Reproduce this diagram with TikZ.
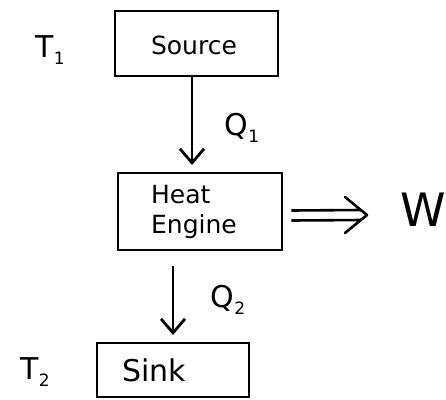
\documentclass[tikz,border=0pt]{standalone}
\usepackage{fontspec}
\setmainfont{DejaVu Sans}
\usetikzlibrary{arrows.meta,calc}
\newcommand{\sbs}[1]{\raisebox{-0.25em}{\fontsize{17}{18}\selectfont #1}}
\begin{document}
\begin{tikzpicture}[x=1pt,y=-1pt,
  box/.style={draw,line width=2.8pt,inner sep=0pt},
  lbl/.style={font=\fontsize{30}{32}\selectfont},
  flow/.style={line width=2.8pt,-{Straight Barb[length=14pt,width=24pt,line width=2.8pt]}},
  wline/.style={line width=2.6pt}]
\useasboundingbox (0,0) rectangle (446,399);
\node[box,minimum width=163pt,minimum height=65pt] (src) at (196.5,43.5) {};
\node[lbl,font=\fontsize{25}{27}\selectfont] (srct) at (194,45) {Source};
\node[lbl] (t1) at (50,50) {T\sbs{1}};
\node[box,minimum width=164pt,minimum height=77pt] (eng) at (200,211.5) {};
\node[align=left,font=\fontsize{25}{30}\selectfont] (engt) at (194,212) {Heat\\Engine};
\node[box,minimum width=152pt,minimum height=54pt] (snk) at (173,370) {};
\node[lbl] (snkt) at (154,370) {Sink};
\node[lbl] (t2) at (35,372) {T\sbs{2}};
\node[lbl] (q1) at (242,128) {Q\sbs{1}};
\node[lbl] (q2) at (228,300) {Q\sbs{2}};
\node[font=\fontsize{46}{48}\selectfont] (w) at (423,210) {W};
\draw[flow] (src.south -| 192,0) -- (192,165);
\draw[flow] (173,266) -- (173,335);
\coordinate (wtip) at (367,215);
\draw[wline] (eng.east) ++(8,-1) -- ($(wtip)+(-6,-5)$);
\draw[wline] (eng.east) ++(8,9) -- ($(wtip)+(-6,5)$);
\draw[wline,line cap=round,line join=round] ($(wtip)+(-22,-18)$) -- (wtip) -- ($(wtip)+(-22,18)$);
\end{tikzpicture}
\end{document}
